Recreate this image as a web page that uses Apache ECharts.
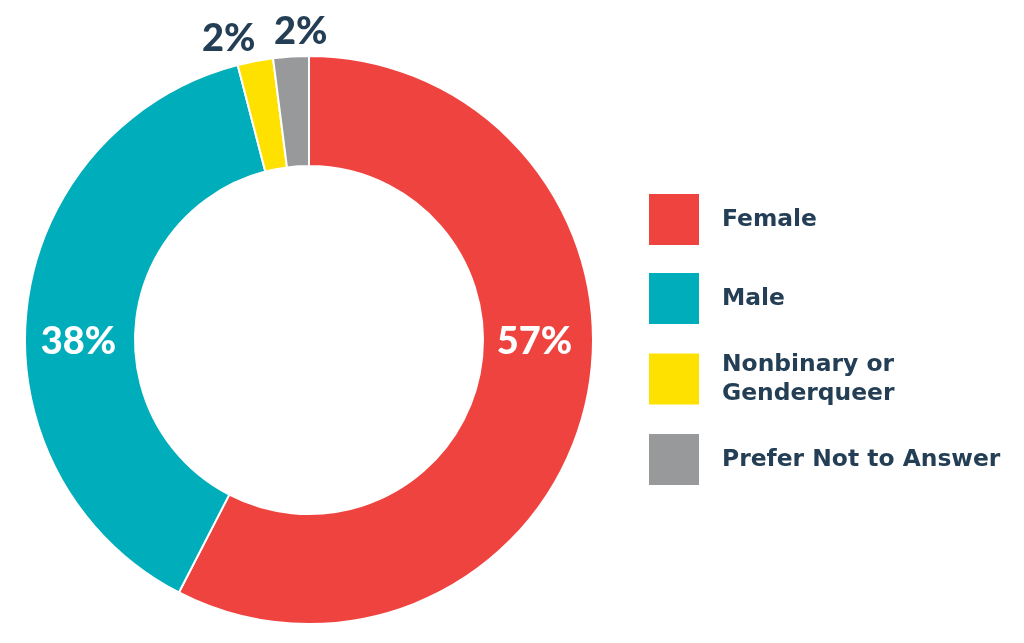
<!DOCTYPE html>
<html>
<head>
<meta charset="utf-8">
<script src="https://cdn.jsdelivr.net/npm/echarts@6/dist/echarts.min.js"></script>
<style>
html,body{margin:0;padding:0;background:#fff;}
#chart{width:1024px;height:643px;}
</style>
</head>
<body>
<div id="chart"></div>
<script>
const categories = ['Female', 'Male', 'Nonbinary or\nGenderqueer', 'Prefer Not to Answer'];
const values = [57, 38, 2, 2];
const colors = ['#ef4340', '#00adba', '#ffe100', '#97999b'];

const CX = 309, CY = 340;
const TEXT = '#243f55';
const FONT = 'Lato, "Open Sans", sans-serif';
const LEGEND_FONT = '"DejaVu Sans", sans-serif';

const chart = echarts.init(document.getElementById('chart'));

const smallOffsets = { 2: [7, -13], 3: [42, -15] };

const data = categories.map((name, i) => {
  const big = values[i] >= 10;
  return {
    name: name,
    value: values[i],
    itemStyle: { color: colors[i] },
    label: big ? {
      position: 'inside',
      color: '#ffffff'
    } : {
      position: 'outside',
      color: TEXT
    },
    labelLine: { show: false, length: 10, length2: 0 }
  };
});

chart.setOption({
  animation: false,
  backgroundColor: '#ffffff',
  legend: {
    orient: 'vertical',
    left: 647,
    top: 192,
    padding: 0,
    itemWidth: 52,
    itemHeight: 53,
    itemGap: 24,
    icon: 'rect',
    textStyle: {
      color: TEXT,
      fontFamily: LEGEND_FONT,
      fontWeight: 'bold',
      fontSize: 23.4,
      lineHeight: 29,
      padding: [0, 0, 0, 17]
    },
    data: categories
  },
  series: [{
    type: 'pie',
    center: [CX, CY],
    radius: [174, 284],
    startAngle: 90,
    clockwise: true,
    avoidLabelOverlap: false,
    itemStyle: { borderColor: '#ffffff', borderWidth: 2 },
    label: {
      show: true,
      formatter: '{c}%',
      fontFamily: FONT,
      fontWeight: 900,
      fontSize: 38
    },
    labelLayout: function (params) {
      const i = params.dataIndex;
      if (values[i] >= 10) {
        return { y: CY + 2 };
      }
      const o = smallOffsets[i] || [0, 0];
      return { dx: o[0], dy: o[1] };
    },
    data: data
  }]
});
</script>
</body>
</html>
